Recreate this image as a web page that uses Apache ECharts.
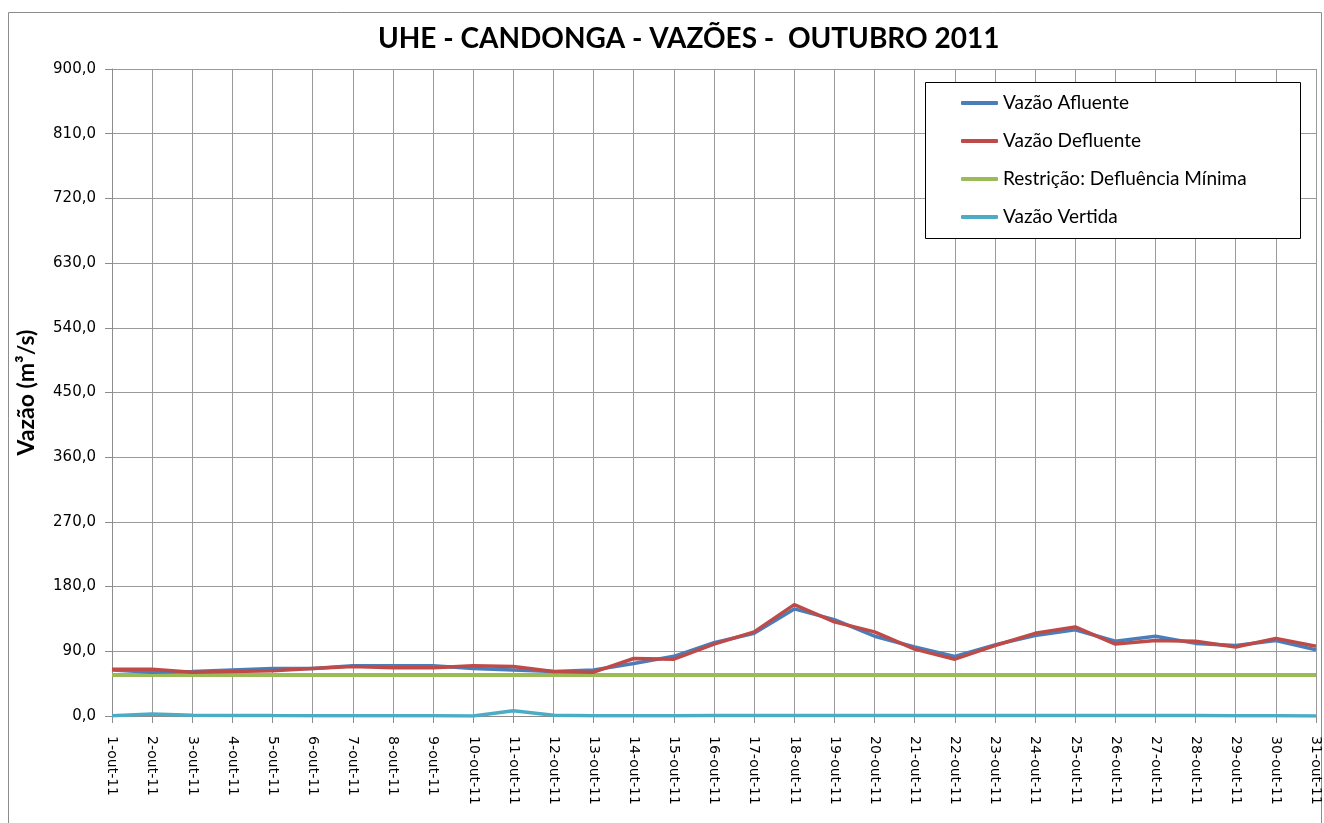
<!DOCTYPE html>
<html>
<head>
<meta charset="utf-8">
<script src="https://cdn.jsdelivr.net/npm/echarts@6/dist/echarts.min.js"></script>
<style>
  html, body { margin: 0; padding: 0; background: #fff; }
  #main { width: 1324px; height: 823px; }
</style>
</head>
<body>
<div id="main"></div>
<script>
// dias de outubro 2011
const dias = [];
for (let d = 1; d <= 31; d++) dias.push(d + '-out-11');

// vazões (m³/s)
const afluente = [64, 61, 62, 64, 66, 66, 70, 70, 70, 66, 64, 62, 64, 73, 83, 102, 115, 149, 134, 111, 96, 83, 99, 112, 120, 104, 111, 101, 98, 105, 92];
const defluente = [65, 65, 61, 62, 63, 66, 69, 67, 67, 70, 69, 62, 61, 80, 79, 100, 117, 155, 131, 117, 93, 79, 98, 115, 124, 100, 105, 104, 96, 108, 97];
const minima = [57, 57, 57, 57, 57, 57, 57, 57, 57, 57, 57, 57, 57, 57, 57, 57, 57, 57, 57, 57, 57, 57, 57, 57, 57, 57, 57, 57, 57, 57, 57];
const vertida = [0.5, 2.8, 1, 0.8, 0.6, 0.5, 0.5, 0.4, 0.4, 0, 7.4, 1, 0.5, 0.5, 0.5, 0.8, 0.8, 0.8, 0.8, 0.8, 0.6, 0.6, 0.6, 0.6, 0.6, 0.6, 0.6, 0.6, 0.5, 0.4, 0];

const fonte = 'Lato, "Open Sans", sans-serif';
const fonteEixo = '"DejaVu Sans", Verdana, sans-serif';

var myChart = echarts.init(document.getElementById('main'));
myChart.setOption({
  animation: false,
  textStyle: { fontFamily: fonte },
  title: {
    text: 'UHE - CANDONGA - VAZÕES -  OUTUBRO 2011',
    left: 373,
    top: 20,
    textStyle: { fontSize: 28, fontWeight: 'bold', color: '#000', fontFamily: fonte }
  },
  graphic: [{
    // moldura do gráfico
    type: 'rect',
    shape: { x: 8.5, y: 12.5, width: 1313, height: 820 },
    style: { fill: 'none', stroke: '#8c8c8c', lineWidth: 1 },
    z: -1
  }, {
    // caixa da legenda
    type: 'rect',
    shape: { x: 925.5, y: 82.5, width: 375, height: 156 },
    style: { fill: '#fff', stroke: '#000', lineWidth: 1 },
    z: 5
  }],
  legend: {
    orient: 'vertical',
    left: 961,
    top: 93,
    padding: 0,
    itemGap: 18,
    itemWidth: 37,
    itemHeight: 4,
    icon: 'roundRect',
    z: 10,
    textStyle: { fontSize: 19, lineHeight: 20, color: '#000', fontFamily: fonte },
    data: ['Vazão Afluente', 'Vazão Defluente', 'Restrição: Defluência Mínima', 'Vazão Vertida']
  },
  grid: { left: 112, right: 8, top: 69, bottom: 107 },
  xAxis: {
    type: 'category',
    data: dias,
    boundaryGap: false,
    axisLine: { lineStyle: { color: '#8c8c8c' } },
    axisTick: { show: true, interval: 0, length: 7, lineStyle: { color: '#8c8c8c' } },
    axisLabel: { interval: 0, rotate: -90, fontSize: 14, color: '#000', margin: 20, fontFamily: fonteEixo },
    splitLine: { show: true, interval: 0, lineStyle: { color: '#9a9a9a', width: 1 } }
  },
  yAxis: {
    type: 'value',
    name: 'Vazão (m³/s)',
    nameLocation: 'middle',
    nameGap: 74,
    nameTextStyle: { fontSize: 23, fontWeight: 'bold', color: '#000', fontFamily: fonte },
    min: 0,
    max: 900,
    interval: 90,
    axisLine: { show: true, lineStyle: { color: '#8c8c8c' } },
    axisTick: { show: true, length: 7, lineStyle: { color: '#8c8c8c' } },
    axisLabel: {
      fontSize: 15, color: '#000', margin: 16, fontFamily: fonteEixo,
      formatter: v => v.toFixed(1).replace('.', ',')
    },
    splitLine: { lineStyle: { color: '#9a9a9a', width: 1 } }
  },
  series: [
    { name: 'Vazão Afluente', type: 'line', data: afluente, symbol: 'none', color: '#4a7ebb', lineStyle: { width: 3.5, color: '#4a7ebb' }, z: 3 },
    { name: 'Vazão Defluente', type: 'line', data: defluente, symbol: 'none', color: '#be4b48', lineStyle: { width: 3.5, color: '#be4b48' }, z: 4 },
    { name: 'Restrição: Defluência Mínima', type: 'line', data: minima, symbol: 'none', color: '#9bbb59', lineStyle: { width: 4, color: '#9bbb59' }, z: 2 },
    { name: 'Vazão Vertida', type: 'line', data: vertida, symbol: 'none', color: '#4bacc6', lineStyle: { width: 3.5, color: '#4bacc6' }, z: 2 }
  ]
});
</script>
</body>
</html>
